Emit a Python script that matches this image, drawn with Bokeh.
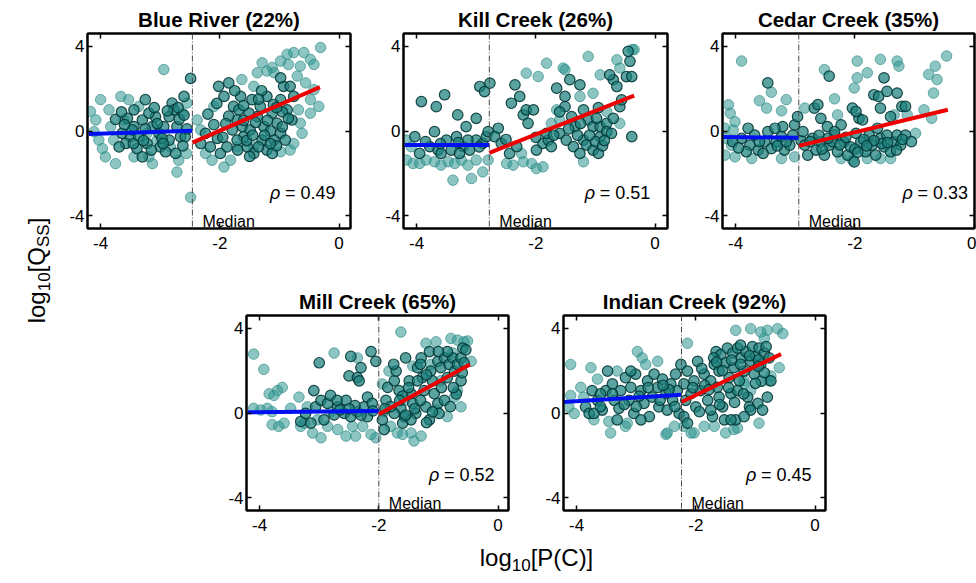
import math
from bokeh.plotting import figure
from bokeh.models import FixedTicker, LinearAxis, Span, Spacer
from bokeh.layouts import row, column
from bokeh.embed import file_html
from bokeh.resources import INLINE
from bokeh.core.properties import value

FONT = "Liberation Sans"

# ---------------- data ----------------
titles = ["Blue River (22%)", "Kill Creek (26%)", "Cedar Creek (35%)",
          "Mill Creek (65%)", "Indian Creek (92%)"]
rho_values = [0.49, 0.51, 0.33, 0.52, 0.45]
medians = [-2.46, -2.78, -2.94, -2.0, -2.24]
x_ticks = [-4, -2, 0]
x_tick_labels = ["-4", "-2", "0"]
y_ticks = [-4, 0, 4]
y_tick_labels = ["-4", "0", "4"]

# fitted segments (x0, y0), (x1, y1)
blue_fits = [[(-4.2, -0.14), (-2.46, 0.01)],
             [(-4.2, -0.66), (-2.78, -0.66)],
             [(-4.22, -0.28), (-2.94, -0.32)],
             [(-4.2, 0.03), (-2.0, 0.1)],
             [(-4.22, 0.52), (-2.24, 0.86)]]
red_fits = [[(-2.46, -0.55), (-0.32, 2.07)],
            [(-2.78, -1.03), (-0.35, 1.67)],
            [(-2.94, -0.7), (-0.44, 1.0)],
            [(-2.0, -0.06), (-0.47, 2.29)],
            [(-2.24, 0.52), (-0.57, 2.78)]]

blue_dark = [(-3.55,0.6),(-3.44,1.0),(-3.25,1.48),(-3.3,0.52),(-3.5,-0.27),(-3.58,-0.59),(-3.39,-0.83),
    (-3.22,-0.59),(-3.13,0.21),(-3.02,-0.11),(-2.94,0.21),(-3.0,-0.75),(-2.85,0.68),(-2.8,1.32),(-2.77,1.0),
    (-2.72,0.21),(-2.66,-0.27),(-2.74,-1.06),(-2.91,-0.98),(-2.6,1.63),(-3.08,0.68),(-3.19,0.84),(-3.44,0.21),
    (-3.36,-0.27),(-3.64,-0.11),(-3.69,-0.75),(-2.85,-0.43),(-2.49,2.48),(-2.58,-0.27),(-3.3,-1.22),
    (-3.47,0.05),(-3.28,-0.45),(-3.05,0.35),(-2.97,-0.35),(-2.88,0.95),(-2.68,0.55),(-2.55,0.1),(-2.62,-0.7),
    (-3.15,-0.9),(-3.6,0.3),(-3.75,0.55),(-2.7,1.1),(-3.1,1.1),(-3.65,0.9),(-2.95,-0.6),(-3.25,0.1),
    (-3.45,-0.6),(-2.6,0.75),
    (-2.32,-0.59),(-2.24,-0.11),(-2.16,-0.75),(-2.04,-0.35),(-1.99,-1.06),(-1.88,-0.75),(-2.02,2.11),
    (-1.85,2.27),(-1.93,1.63),(-1.77,1.16),(-1.65,1.63),(-1.71,0.52),(-1.79,0.05),(-1.6,-0.27),(-1.54,-0.75),
    (-1.43,-1.06),(-1.46,1.48),(-1.32,1.16),(-1.21,1.63),(-1.37,0.68),(-1.26,0.21),(-1.12,0.84),(-1.04,0.37),
    (-0.98,-0.11),(-1.09,-0.43),(-1.21,-0.9),(-0.98,1.48),(-0.87,1.0),(-0.93,2.11),(-0.76,1.63),(-1.62,0.21),
    (-1.49,0.05),(-1.71,-0.43),(-0.9,-0.43),(-1.12,-1.06),(-1.29,-0.43),(-1.51,0.84),(-0.79,0.52),(-0.98,2.51),
    (-0.82,2.11),(-1.68,1.0),(-1.4,0.4),(-1.15,0.0),(-1.05,-0.7),(-1.3,1.9),(-1.55,-0.45),(-1.85,0.7),
    (-2.1,0.3),(-1.95,-0.3),(-1.1,1.25),(-0.95,0.9),(-1.25,-0.2),(-1.6,0.5),(-1.35,-0.75),(-2.2,0.8),(-1.75,1.9),
    (-1.7,-0.9),(-1.45,-0.2),(-1.2,0.5),(-1.05,1.1),(-0.95,0.2),(-1.35,1.5),(-1.6,1.2),(-1.9,0.35),
    (-2.05,1.3),(-1.15,-0.6),(-0.85,0.6),(-1.5,-1.2)]
blue_light = [(-4.17,0.92),(-4.08,0.52),(-4.11,-0.03),(-4.03,-0.43),(-3.97,-0.83),(-3.92,-1.22),(-3.75,-1.54),
    (-3.83,0.21),(-3.86,1.0),(-3.66,1.63),(-3.53,1.48),(-3.78,-0.43),(-3.61,0.52),(-3.44,-1.22),(-3.36,1.16),
    (-3.19,-1.22),(-3.13,-1.54),(-2.94,2.9),(-2.83,-0.75),(-2.69,-1.38),(-2.72,-1.94),(-2.56,-1.06),(-2.63,0.84),
    (-2.49,-3.13),(-2.55,1.32),(-3.22,-0.11),(-3.05,-0.43),(-4.0,1.48),
    (-2.38,0.52),(-2.32,0.05),(-2.1,1.16),(-1.82,-1.38),(-1.93,-1.7),(-1.71,-0.75),(-1.43,-0.75),(-1.63,2.43),
    (-1.29,3.22),(-1.21,2.83),(-1.37,2.75),(-1.12,3.0),(-0.98,3.3),(-0.87,3.62),(-0.76,3.7),(-0.59,3.7),
    (-0.48,3.38),(-0.42,3.14),(-0.31,3.94),(-0.65,3.06),(-0.7,2.59),(-0.56,2.27),(-0.42,1.95),(-0.48,1.48),
    (-0.34,1.16),(-0.48,0.84),(-0.68,1.0),(-0.65,0.37),(-0.62,-0.11),(-0.82,-0.9),(-0.76,-0.59),(-0.98,-0.98),
    (-1.09,2.75),(-0.85,3.14),(-1.43,2.11),(-2.13,-1.38),(-2.24,-1.06)]

kill_dark = [(-3.92,1.39),(-3.67,1.15),(-3.53,1.71),(-3.31,0.76),(-3.17,0.21),(-3.0,0.6),(-2.94,2.1),
    (-2.86,1.86),(-2.77,2.26),(-3.7,-0.03),(-3.95,-1.06),(-3.78,-0.74),(-3.64,-0.9),(-3.5,-0.43),(-3.42,-0.9),
    (-3.33,-0.27),(-3.22,-0.74),(-3.11,-0.9),(-3.0,-0.43),(-2.89,-0.58),(-2.83,-0.27),(-3.59,-1.06),(-3.28,-1.06),
    (-4.03,-0.27),(-2.8,-0.03),(-3.14,-0.43),(-3.6,-0.6),(-3.3,-0.55),(-2.95,-0.75),(-3.85,-0.5),
    (-2.63,0.13),(-2.69,-0.27),(-2.58,-0.58),(-2.44,-1.06),(-2.35,2.18),(-2.41,1.31),(-2.27,1.63),(-2.21,0.76),
    (-2.16,1.0),(-2.13,0.36),(-2.04,1.0),(-2.32,-0.74),(-1.99,-0.9),(-1.88,-0.58),(-1.79,-0.43),(-1.74,-0.74),
    (-1.82,-0.11),(-1.65,2.02),(-1.51,1.63),(-1.51,1.15),(-1.4,0.68),(-1.6,-0.11),(-1.49,-0.43),(-1.37,-0.74),
    (-1.26,-1.06),(-1.34,0.21),(-1.2,1.0),(-1.12,0.52),(-1.04,0.21),(-1.2,-0.43),(-1.15,-0.66),(-1.04,-0.9),
    (-0.95,-1.06),(-0.92,-0.27),(-0.92,0.21),(-0.81,0.36),(-0.81,-0.03),(-0.73,-0.11),(-0.98,0.6),(-0.59,1.15),
    (-0.56,1.47),(-0.48,2.57),(-0.39,2.57),(-0.42,3.29),(-0.7,2.42),(-0.64,2.1),(-1.43,2.42),(-1.26,2.18),
    (-0.76,2.65),(-0.45,3.76),(-0.39,-0.27),(-1.0,-0.5),(-0.88,-0.7),(-1.3,-0.2),(-1.7,-0.2),(-2.5,-0.4),
    (-1.45,0.1),(-1.1,-0.2),(-0.85,-0.45),(-0.7,0.6),(-1.6,0.9),(-2.0,-0.3),(-1.25,0.35),(-0.95,1.1)]
kill_light = [(-4.17,-1.37),(-4.06,-1.53),(-3.95,-1.53),(-3.84,-1.37),(-3.7,-1.45),(-3.59,-1.61),(-3.47,-1.45),
    (-3.36,-1.53),(-3.25,-1.37),(-3.14,-1.61),(-3.0,-1.37),(-2.89,-1.93),(-3.08,-2.24),(-3.39,-2.32),(-2.8,-1.37),
    (-4.17,-0.43),(-4.09,-0.74),
    (-2.49,-1.53),(-2.38,-1.61),(-2.24,-1.06),(-2.21,-1.45),(-2.07,-1.53),(-1.99,-1.77),(-1.88,-1.69),
    (-2.16,2.73),(-1.96,2.57),(-1.82,3.2),(-1.54,2.97),(-1.51,2.89),(-1.12,3.52),(-1.26,1.63),(-1.04,1.78),
    (-0.92,2.65),(-1.2,-1.45),(-0.64,3.36),(-0.59,2.97),(-0.38,3.84),(-0.35,3.84),(-0.59,0.36),(-1.74,0.36),
    (-1.65,1.0),(-1.6,0.52),(-0.81,0.92)]

cedar_dark = [(-3.9,-0.35),(-3.79,0.13),(-3.76,-0.67),(-3.68,-0.19),(-3.62,-0.9),(-3.51,-0.51),(-3.46,-0.03),
    (-3.4,-0.83),(-3.32,-0.51),(-3.23,-0.27),(-3.18,-0.9),(-3.09,-0.67),(-3.04,-0.19),(-3.01,0.29),(-3.21,0.21),
    (-3.34,0.13),(-3.54,-1.06),(-3.82,-0.98),(-3.46,2.27),(-2.96,0.68),(-4.05,-0.5),(-3.95,-0.8),
    (-2.9,-0.45),(-3.6,-0.5),(-3.3,-0.7),(-3.15,-0.5),
    (-2.87,-0.03),(-2.84,-0.67),(-2.79,-1.14),(-2.71,-0.35),(-2.65,-0.9),(-2.57,-0.51),(-2.51,-1.14),
    (-2.43,-0.67),(-2.34,-0.19),(-2.29,-0.98),(-2.23,0.29),(-2.18,-0.51),(-2.12,-1.14),(-2.07,-0.75),
    (-2.01,-1.46),(-1.98,-0.11),(-1.93,0.6),(-1.9,-0.51),(-1.82,-0.98),(-1.76,-0.19),(-1.71,-0.67),(-1.65,-1.14),
    (-1.62,0.13),(-1.57,-0.35),(-1.51,-0.75),(-1.46,-0.19),(-1.4,-0.98),(-1.34,-0.51),(-1.29,-0.19),(-1.23,-0.67),
    (-1.15,-0.19),(-2.68,1.08),(-2.62,1.24),(-2.57,0.6),(-2.46,0.21),(-2.04,1.08),(-1.98,0.92),(-1.87,0.52),
    (-1.68,1.71),(-1.6,1.63),(-1.57,1.08),(-1.46,1.87),(-1.29,1.79),(-1.21,1.16),(-1.51,2.51),(-2.43,2.59),
    (-2.34,-0.03),(-1.4,0.68),(-1.15,1.16),(-2.6,-0.2),(-2.38,-0.5),(-2.15,-0.3),(-1.85,-0.4),(-1.55,-0.6),
    (-1.3,-0.9),(-2.75,-0.5),(-2.0,-0.85),(-2.55,-0.85),(-2.25,-0.65),(-1.95,-1.0),(-1.68,-0.45),(-1.45,-0.55),
    (-1.2,-0.4),(-1.05,-0.5),(-2.45,-0.35),(-1.8,-0.7)]
cedar_light = [(-3.9,3.3),(-3.4,1.83),(-3.6,1.43),(-3.48,1.08),(-3.23,0.95),(-3.15,1.48),(-4.12,1.24),
    (-4.09,0.84),(-4.18,0.13),(-4.15,-0.35),(-4.18,-1.14),(-4.01,-1.22),(-4.07,-0.67),(-4.01,0.44),(-4.04,0.05),
    (-3.23,-1.3),(-3.01,-1.22),(-3.73,-1.3),
    (-2.51,2.9),(-2.34,1.52),(-1.96,3.3),(-1.96,2.51),(-2.01,2.03),(-1.79,2.75),(-1.57,3.38),(-1.29,3.3),
    (-1.26,3.06),(-0.76,2.67),(-0.65,3.06),(-0.62,2.43),(-0.68,1.79),(-0.46,3.54),(-0.84,1.0),(-0.71,0.6),
    (-0.98,-0.11),(-1.12,0.76),(-2.84,1.08),(-2.23,-1.3),(-2.04,-1.38),(-1.79,-1.3),(-1.57,-1.3),(-1.4,-1.3),
    (-2.29,0.76),(-1.34,0.76)]

mill_dark = [(-3.31,-0.4),(-3.23,-0.02),(-3.09,1.06),(-3.0,2.37),(-3.06,0.29),(-2.97,0.6),(-2.86,0.45),
    (-2.81,0.83),(-2.75,-0.09),(-2.69,0.29),(-2.58,-0.02),(-2.55,0.6),(-2.5,1.75),(-2.47,2.67),(-2.36,1.67),
    (-2.33,1.52),(-2.47,-0.17),(-2.36,0.06),(-2.25,0.29),(-2.19,0.75),(-2.13,2.9),(-2.05,2.44),(-2.19,-0.17),
    (-2.11,0.45),(-2.3,2.14),(-2.92,-0.32),(-3.14,-0.48),(-2.65,0.15),(-2.4,0.35),(-2.1,0.1),
    (-2.5,0.2),(-2.3,-0.1),(-2.7,0.6),
    (-1.94,-0.32),(-1.88,0.6),(-1.85,1.21),(-1.74,1.52),(-1.71,1.98),(-1.66,1.06),(-1.63,0.22),(-1.57,-0.17),
    (-1.55,2.6),(-1.49,1.52),(-1.46,0.91),(-1.43,0.45),(-1.38,-0.02),(-1.35,2.14),(-1.29,2.6),(-1.27,1.67),
    (-1.24,1.06),(-1.21,0.29),(-1.15,2.9),(-1.13,1.98),(-1.1,1.52),(-1.07,0.91),(-1.01,2.44),(-0.96,2.14),
    (-0.9,2.6),(-0.85,1.67),(-0.82,2.29),(-0.76,2.6),(-0.73,1.98),(-0.68,2.29),(-0.62,2.6),(-0.57,2.37),
    (-0.59,3.06),(-0.54,2.98),(-0.85,2.9),(-1.01,0.45),(-0.99,-0.02),(-0.9,0.6),(-1.15,-0.32),(-1.6,-0.48),
    (-1.74,-0.02),(-1.46,-0.32),(-1.35,1.52),(-0.62,1.52),(-1.91,-0.78),(-1.8,0.3),(-1.5,1.2),(-1.2,1.8),
    (-0.95,1.2),(-0.7,0.9),(-1.3,0.6),(-1.6,0.8),(-1.65,0.6),(-1.4,0.2),(-1.1,0.05),(-0.8,0.3),(-0.6,1.9),
    (-1.0,2.9),(-1.3,2.3),(-1.75,2.3),(-1.9,0.2),(-0.75,1.2),(-1.55,-0.1),(-1.2,-0.45)]
mill_light = [(-4.1,2.78),(-3.93,2.06),(-4.1,0.22),(-3.98,0.14),(-3.87,0.22),(-3.79,0.06),(-3.7,1.06),
    (-3.62,1.21),(-3.76,0.83),(-3.84,0.91),(-3.79,-0.55),(-3.68,-0.63),(-3.59,-0.48),(-3.48,0.22),(-3.34,0.75),
    (-3.31,-0.63),(-3.11,-0.94),(-3.03,-0.32),(-3.2,0.29),(-2.75,2.83),(-2.86,-0.63),(-2.69,-0.78),(-2.55,-1.09),
    (-2.39,-1.09),(-2.27,-0.63),(-2.13,-1.01),(-2.05,-1.17),(-2.36,2.6),(-2.44,-0.63),(-2.97,-1.17),(-2.81,0.06),
    (-3.25,-0.48),
    (-1.63,3.82),(-1.91,0.06),(-1.8,-0.63),(-1.69,-0.94),(-1.6,-1.01),(-1.46,-0.94),(-1.29,-1.09),(-1.41,-1.32),
    (-1.94,1.37),(-1.83,1.98),(-1.21,3.29),(-1.04,3.36),(-0.79,3.52),(-0.68,3.44),(-0.57,3.36),(-0.51,3.4),
    (-0.45,2.44),(-0.76,2.83),(-0.68,1.06),(-0.62,0.29),(-0.73,0.75),(-0.85,-0.17),(-1.04,0.14),(-0.96,1.52),
    (-1.13,2.29),(-1.43,2.21),(-1.57,0.6)]

indian_dark = [(-3.85,0.29),(-3.79,-0.02),(-3.74,1.06),(-3.65,0.6),(-3.57,0.14),(-3.51,1.06),(-3.4,1.37),
    (-3.37,0.6),(-3.29,0.22),(-3.26,1.06),(-3.18,1.67),(-3.12,0.6),(-3.09,1.21),(-3.04,-0.02),(-3.01,1.83),
    (-2.92,1.06),(-2.87,0.45),(-2.81,1.52),(-2.78,-0.17),(-2.73,0.75),(-2.7,1.83),(-2.64,1.21),(-2.62,0.29),
    (-2.56,1.6),(-2.5,0.91),(-2.48,0.14),(-2.42,1.37),(-2.39,0.6),(-2.34,1.83),(-2.31,1.06),(-2.25,2.29),
    (-2.28,-0.02),(-3.71,-0.02),(-3.32,-0.32),(-2.92,-0.32),(-3.09,1.98),(-3.48,1.98),(-3.6,0.9),(-3.2,0.4),
    (-2.95,0.8),(-2.6,0.6),(-2.45,1.1),(-3.4,0.9),(-2.8,1.2),(-3.0,0.3),(-2.55,1.3),(-3.6,0.3),(-2.35,0.3),
    (-2.2,1.37),(-2.17,0.6),(-2.2,-0.17),(-2.14,1.98),(-2.08,0.91),(-2.03,1.52),(-2.0,0.29),(-1.97,2.44),
    (-1.92,1.06),(-1.86,1.83),(-1.8,0.6),(-1.75,1.52),(-1.72,-0.17),(-1.69,2.29),(-1.66,2.9),(-1.64,1.21),
    (-1.61,1.98),(-1.58,2.75),(-1.55,0.29),(-1.52,-0.32),(-1.5,2.37),(-1.47,3.06),(-1.44,1.67),(-1.41,0.91),
    (-1.38,2.83),(-1.36,2.14),(-1.33,-0.32),(-1.3,3.06),(-1.27,1.52),(-1.24,2.6),(-1.19,1.98),(-1.16,2.9),
    (-1.13,0.75),(-1.1,0.29),(-1.08,2.44),(-1.05,3.13),(-1.02,1.83),(-0.99,2.67),(-0.96,0.45),(-0.94,3.06),
    (-0.91,2.29),(-0.88,0.14),(-0.85,2.83),(-0.82,3.13),(-0.8,0.75),(-0.77,2.6),(-1.08,0.14),(-1.19,-0.17),
    (-1.41,-0.32),(-1.75,0.14),(-1.94,0.06),(-2.14,-0.48),(-1.61,0.75),(-1.3,1.06),(-0.74,1.52),
    (-1.55,2.0),(-1.25,2.3),(-0.95,2.5),(-1.7,2.6),(-1.4,2.5),(-1.1,2.7),(-0.9,1.5),(-1.85,1.3),
    (-2.05,1.2),(-1.9,2.1),(-1.65,2.4),(-1.45,1.2),(-1.2,0.9),(-0.85,1.9),(-1.0,1.4),(-1.35,0.5),
    (-1.6,0.4),(-1.78,1.1),(-0.95,2.2),(-1.25,3.2)]
indian_light = [(-4.1,2.29),(-4.1,0.83),(-4.13,0.29),(-4.04,-0.02),(-3.93,1.21),(-3.88,0.75),(-3.76,2.14),
    (-3.65,1.6),(-3.71,-0.32),(-3.46,-0.4),(-3.43,-0.94),(-3.32,1.98),(-3.18,-0.63),(-3.15,-0.48),(-2.98,2.9),
    (-2.9,2.6),(-2.84,2.29),(-2.64,2.44),(-2.48,-0.94),(-2.36,-0.63),(-2.5,-1.01),
    (-2.14,3.29),(-2.2,-0.63),(-2.08,-0.94),(-1.86,-0.63),(-1.69,-0.63),(-1.5,-0.94),(-1.36,-0.78),(-1.3,-0.71),
    (-1.19,1.52),(-1.33,3.9),(-1.08,3.98),(-0.91,3.82),(-0.85,3.52),(-0.8,3.9),(-0.63,3.98),(-0.54,3.75),
    (-0.6,2.14),(-0.74,1.75),(-0.94,-0.48),(-0.77,1.52),(-1.19,1.37),(-1.08,1.06),(-2.03,-0.94)]

dark_sets = [blue_dark, kill_dark, cedar_dark, mill_dark, indian_dark]
light_sets = [blue_light, kill_light, cedar_light, mill_light, indian_light]

# ---------------- styling ----------------
TICK_SIZE = "17px"
FRAME_H = 195
X_START = -4.22
PX_PER_X = 59.6


def style_axis(ax, ticks, tick_labels=None, standoff=3):
    ax.ticker = FixedTicker(ticks=ticks)
    ax.axis_line_color = "black"
    ax.axis_line_width = 2
    ax.major_tick_in = 5
    ax.major_tick_out = 0
    ax.major_tick_line_color = "black"
    ax.major_tick_line_width = 1.5
    ax.minor_tick_line_color = None
    ax.major_label_text_font = FONT
    if tick_labels is not None:
        ax.major_label_overrides = {t: s for t, s in zip(ticks, tick_labels)}
        ax.major_label_text_font_size = TICK_SIZE
        ax.major_label_text_color = "black"
        ax.major_label_standoff = standoff
    else:
        ax.major_label_text_font_size = "0px"
        ax.major_label_text_color = None
        ax.major_label_standoff = 0


def make_panel(i, left, frame_w, right, top, bottom, rho_x):
    x_end = X_START + frame_w / PX_PER_X
    p = figure(width=left + frame_w + right, height=top + FRAME_H + bottom,
               x_range=(X_START, x_end), y_range=(-4.6, 4.6),
               output_backend="svg", toolbar_location=None,
               min_border_left=left, min_border_right=right,
               min_border_top=top, min_border_bottom=bottom,
               title=titles[i])
    p.title.text_font = FONT
    p.title.text_font_style = "bold"
    p.title.text_font_size = "20.5px"
    p.title.align = "center"
    p.title.text_color = "black"
    p.title.standoff = 6
    p.grid.visible = False
    p.outline_line_color = "black"
    p.outline_line_width = 2
    p.background_fill_color = "white"
    p.border_fill_color = "white"

    style_axis(p.xaxis[0], x_ticks, x_tick_labels, 8)
    style_axis(p.yaxis[0], y_ticks, y_tick_labels, 3)
    top_ax = LinearAxis()
    style_axis(top_ax, x_ticks)
    p.add_layout(top_ax, "above")
    right_ax = LinearAxis()
    style_axis(right_ax, y_ticks)
    p.add_layout(right_ax, "right")

    p.add_layout(Span(location=medians[i], dimension="height", line_color="#4a4a4a",
                      line_width=1, line_dash="6 2 1 2"))

    lx, ly = zip(*light_sets[i])
    dx, dy = zip(*dark_sets[i])
    p.scatter(x=list(lx), y=list(ly), size=10.5, marker="circle",
              fill_color="#2E9690", fill_alpha=0.55, line_color="#2E8A86", line_alpha=0.65, line_width=1)
    p.scatter(x=list(dx), y=list(dy), size=10.5, marker="circle",
              fill_color="#1A807B", fill_alpha=0.72, line_color="#003634", line_alpha=0.88, line_width=1.2)

    bx, by = zip(*blue_fits[i])
    rx, ry = zip(*red_fits[i])
    p.line(list(bx), list(by), line_color="#0010F0", line_width=4)
    p.line(list(rx), list(ry), line_color="#EE0000", line_width=4)

    p.text(x=[medians[i]], y=[-4.26], text=["Median"], x_offset=10,
           text_font=value(FONT), text_font_size="16px", text_color="black",
           text_align="left", text_baseline="alphabetic")

    p.text(x=[rho_x], y=[-2.92], text=["ρ"], text_font=value(FONT), text_font_style="italic",
           text_font_size="18px", text_color="black", text_align="left", text_baseline="alphabetic")
    p.text(x=[rho_x], y=[-2.92], text=["= %.2f" % rho_values[i]], x_offset=15,
           text_font=value(FONT), text_font_size="18px", text_color="black",
           text_align="left", text_baseline="alphabetic")
    return p


# ---------------- layout ----------------
TOP_T, TOP_B = 33, 30
BOT_T, BOT_B = 57, 30

p1 = make_panel(0, 27, 263, 3, TOP_T, TOP_B, -1.16)
p2 = make_panel(1, 50, 264, 3, TOP_T, TOP_B, -1.18)
p3 = make_panel(2, 52, 252, 2, TOP_T, TOP_B, -1.2)
p4 = make_panel(3, 27, 262, 3, BOT_T, BOT_B, -1.16)
p5 = make_panel(4, 52, 262, 3, BOT_T, BOT_B, -1.16)

CW = {"l": .222, "o": .556, "g": .556, "1": .556, "0": .556, "[": .278, "]": .278,
      "Q": .778, "S": .667, "P": .667, "(": .333, ")": .333, "C": .722}


def tw(s, size):
    return sum(CW.get(c, .556) for c in s) * size


MAIN, SUB, SUB_DROP = 24, 17, 7
TOTAL_H = 583


def blank_fig(w, h):
    f = figure(width=w, height=h, x_range=(0, w), y_range=(0, h), output_backend="svg",
               toolbar_location=None, min_border=0, x_axis_type=None, y_axis_type=None)
    f.grid.visible = False
    f.outline_line_color = None
    return f


ylab = blank_fig(60, TOTAL_H)
pieces = [("log", MAIN, 0), ("10", SUB, SUB_DROP), ("[Q", MAIN, 0), ("SS", SUB, SUB_DROP), ("]", MAIN, 0)]
total = sum(tw(s, sz) for s, sz, _ in pieces)
ypos = (TOTAL_H - 270) - total / 2
for s, sz, drop in pieces:
    ylab.text(x=[36 + drop], y=[ypos], text=[s], angle=math.pi / 2, text_font=value(FONT),
              text_font_size="%dpx" % sz, text_color="black", text_align="left",
              text_baseline="alphabetic")
    ypos += tw(s, sz)

XL_H = TOTAL_H - (TOP_T + FRAME_H + TOP_B) - (BOT_T + FRAME_H + BOT_B)
xlab = blank_fig(916, XL_H)
pieces = [("log", MAIN, 0), ("10", SUB, SUB_DROP), ("[P(C)]", MAIN, 0)]
total = sum(tw(s, sz) for s, sz, _ in pieces)
xpos = 476 - total / 2
for s, sz, drop in pieces:
    xlab.text(x=[xpos], y=[(TOTAL_H - 557) - drop], text=[s], text_font=value(FONT),
              text_font_size="%dpx" % sz, text_color="black", text_align="left",
              text_baseline="alphabetic")
    xpos += tw(s, sz)

top_row = row(p1, p2, p3)
bottom_row = row(Spacer(width=159, height=BOT_T + FRAME_H + BOT_B), p4, p5)
layout = row(ylab, column(top_row, bottom_row, xlab))

open("out.html", "w").write(file_html(layout, INLINE))
